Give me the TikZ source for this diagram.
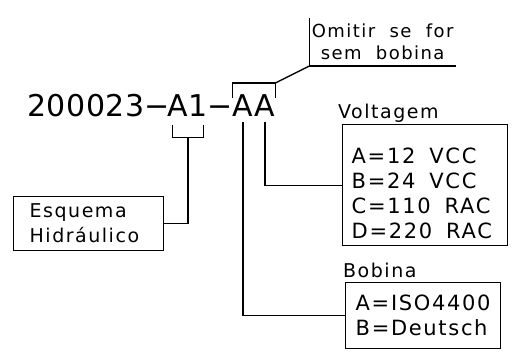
\documentclass[tikz,border=0pt]{standalone}
\usepackage{fontspec}
\setmainfont{DejaVu Sans}
\newfontfamily\cadfont[LetterSpace=8]{DejaVu Sans}
\newfontfamily\codefont[LetterSpace=2]{DejaVu Sans}
\usepackage{tikz}
\usetikzlibrary{positioning}
\tikzset{code-line/.style={line width=1.4pt}}
\tikzset{code-part/.style={inner sep=0, anchor=base, font=\codefont\fontsize{30}{30}\selectfont}}
\tikzset{info-box/.style={draw, line width=1.4pt, anchor=north west, align=left, inner sep=0, inner xsep=9pt}}
\tikzset{box-text/.style={font=\cadfont\fontsize{21}{25}\selectfont}}
\tikzset{box-label/.style={inner sep=0, anchor=base west, font=\cadfont\fontsize{19}{19}\selectfont}}

\begin{document}
\begin{tikzpicture}[x=1pt, y=-1pt]
    \useasboundingbox (0,0) rectangle (517,360);

    % codigo
    \node[code-part, anchor=base west] (serie) at (27,116) {200023};
    \node[code-part] (dashA) at (157,116) {−};
    \node[code-part] (cA1) at (188,116) {A1};
    \node[code-part] (dashB) at (220,116) {−};
    \node[code-part] (cBob) at (243,116) {A};
    \node[code-part] (cVolt) at (265,116) {A};

    % caixas
    \node[info-box, box-text, minimum width=150pt, minimum height=54pt, inner xsep=16pt, text width=118pt,
          font=\cadfont\fontsize{19}{25}\selectfont] (esqbox) at (13,196) {Esquema\\Hidráulico};
    \node[info-box, box-text, minimum width=165pt, minimum height=121pt, text width=147pt] (voltbox) at (342,124)
        {\rule{0pt}{31pt}A=12~~VCC\\B=24~~VCC\\C=110~~RAC\\D=220~~RAC};
    \node[info-box, box-text, minimum width=147pt, minimum height=66pt, inner xsep=10pt] (bobbox) at (345,282)
        {A=ISO4400\\B=Deutsch};
    \node[box-label] (voltlabel) at ([xshift=-4pt, yshift=6pt]voltbox.north west) {Voltagem};
    \node[box-label] (boblabel) at ([xshift=-2pt, yshift=5pt]bobbox.north west) {Bobina};

    % colchetes
    \draw[code-line] ([xshift=5pt, yshift=-9pt]cA1.south west) -- ([xshift=5pt, yshift=-21pt]cA1.south west)
        -- ([xshift=-5pt, yshift=-21pt]cA1.south east) -- ([xshift=-5pt, yshift=-9pt]cA1.south east);
    \draw[code-line] ([yshift=-4pt]cBob.north west) -- ([yshift=11pt]cBob.north west)
        -- ([yshift=11pt]cVolt.north east) -- ([yshift=-4pt]cVolt.north east);
    \coordinate (knee) at ([xshift=34pt, yshift=28pt]cVolt.north east);
    \node[anchor=south west, minimum width=146pt, minimum height=48pt, inner sep=0, align=center,
          font=\cadfont\fontsize{18}{22}\selectfont] (omit) at (knee) {Omitir~~se~~for\\sem~~bobina};

    \draw[code-line] ([yshift=11pt]cVolt.north east) -- (knee);
    \draw[code-line] (omit.north west) |- (omit.south east);
    \draw[code-line] ([yshift=-21pt]cA1.south) |- (esqbox.east);
    \draw[code-line] ([yshift=-6pt]cBob.south) |- (bobbox.west);
    \draw[code-line] ([yshift=-6pt]cVolt.south) |- (voltbox.west);
\end{tikzpicture}
\end{document}
